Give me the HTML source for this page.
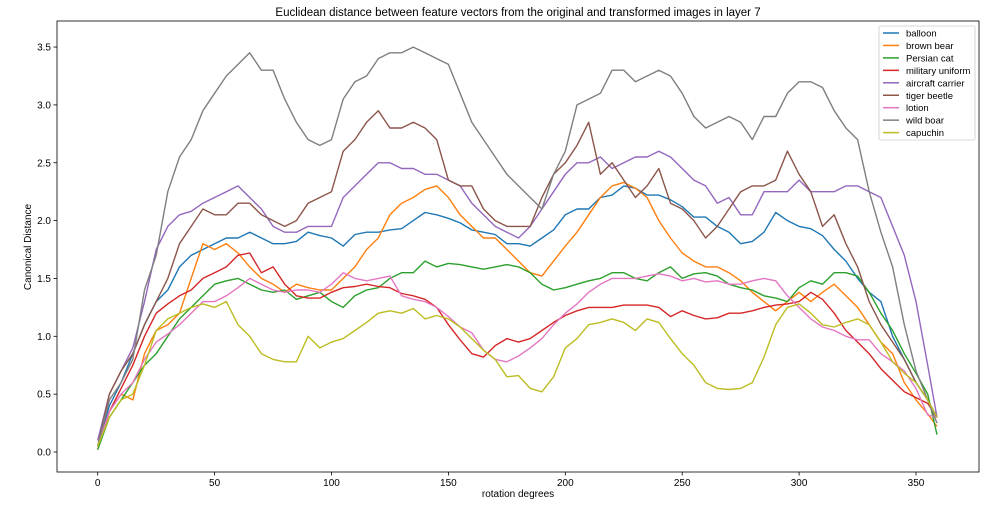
<!DOCTYPE html>
<html><head><meta charset="utf-8"><style>
body{margin:0;background:#fff;}
svg{display:block;font-family:"Liberation Sans",sans-serif;}
</style></head><body>
<svg id="chart" width="989" height="510" viewBox="0 0 989 510" xmlns="http://www.w3.org/2000/svg">
<rect width="989" height="510" fill="#fff"/>
<text x="518" y="16" text-anchor="middle" font-size="11.5" fill="#000">Euclidean distance between feature vectors from the original and transformed images in layer 7</text>
<g id="plot"></g>
<g id="axes"></g>
<text x="518" y="497" text-anchor="middle" font-size="10">rotation degrees</text>
<text transform="translate(31,247) rotate(-90)" text-anchor="middle" font-size="10">Canonical Distance</text>
<g id="legend"></g>
</svg>
<script>
const degrees=[0,5,10,15,20,25,30,35,40,45,50,55,60,65,70,75,80,85,90,95,100,105,110,115,120,125,130,135,140,145,150,155,160,165,170,175,180,185,190,195,200,205,210,215,220,225,230,235,240,245,250,255,260,265,270,275,280,285,290,295,300,305,310,315,320,325,330,335,340,345,350,355,359];
const seriesNames=["balloon","brown bear","Persian cat","military uniform","aircraft carrier","tiger beetle","lotion","wild boar","capuchin"];
const balloon=[0.05,0.4,0.6,0.85,1.1,1.3,1.4,1.6,1.7,1.75,1.8,1.85,1.85,1.9,1.85,1.8,1.8,1.82,1.9,1.87,1.85,1.78,1.88,1.9,1.9,1.92,1.93,2.0,2.07,2.05,2.02,1.98,1.92,1.9,1.88,1.8,1.8,1.78,1.85,1.92,2.05,2.1,2.1,2.2,2.22,2.3,2.28,2.22,2.22,2.18,2.12,2.03,2.03,1.95,1.9,1.8,1.82,1.9,2.07,2.0,1.95,1.93,1.87,1.75,1.65,1.5,1.38,1.3,1.0,0.8,0.6,0.45,0.3];
const brownBear=[0.02,0.35,0.5,0.45,0.85,1.05,1.1,1.2,1.5,1.8,1.75,1.8,1.72,1.6,1.5,1.45,1.38,1.45,1.42,1.4,1.4,1.5,1.6,1.75,1.85,2.05,2.15,2.2,2.27,2.3,2.2,2.05,1.95,1.85,1.85,1.75,1.65,1.55,1.52,1.65,1.78,1.9,2.05,2.2,2.3,2.33,2.28,2.2,2.0,1.85,1.72,1.65,1.6,1.6,1.55,1.48,1.38,1.3,1.22,1.3,1.38,1.3,1.38,1.45,1.35,1.25,1.1,0.95,0.85,0.6,0.45,0.33,0.22];
const persianCat=[0.02,0.3,0.45,0.6,0.75,0.85,1.0,1.15,1.25,1.35,1.45,1.48,1.5,1.45,1.4,1.38,1.4,1.32,1.35,1.38,1.3,1.25,1.35,1.4,1.42,1.5,1.55,1.55,1.65,1.6,1.63,1.62,1.6,1.58,1.6,1.62,1.6,1.55,1.45,1.4,1.42,1.45,1.48,1.5,1.55,1.55,1.5,1.48,1.55,1.6,1.5,1.54,1.55,1.52,1.45,1.42,1.4,1.35,1.33,1.3,1.42,1.48,1.45,1.55,1.55,1.52,1.38,1.2,1.05,0.85,0.68,0.5,0.15];
const militaryUniform=[0.05,0.35,0.55,0.75,1.0,1.2,1.28,1.35,1.4,1.5,1.55,1.6,1.7,1.72,1.55,1.6,1.45,1.35,1.33,1.33,1.38,1.42,1.43,1.45,1.43,1.42,1.37,1.35,1.32,1.25,1.1,0.97,0.85,0.82,0.92,0.98,0.95,0.98,1.05,1.12,1.18,1.22,1.25,1.25,1.25,1.27,1.27,1.27,1.25,1.17,1.22,1.18,1.15,1.16,1.2,1.2,1.22,1.25,1.27,1.28,1.3,1.38,1.32,1.2,1.05,0.95,0.85,0.72,0.62,0.52,0.47,0.42,0.3];
const aircraftCarrier=[0.1,0.5,0.7,0.9,1.3,1.75,1.95,2.05,2.08,2.15,2.2,2.25,2.3,2.2,2.1,1.95,1.9,1.9,1.95,1.95,1.95,2.2,2.3,2.4,2.5,2.5,2.45,2.45,2.4,2.4,2.35,2.3,2.15,2.05,1.95,1.9,1.85,1.95,2.1,2.25,2.4,2.5,2.5,2.55,2.45,2.5,2.55,2.55,2.6,2.55,2.45,2.35,2.3,2.15,2.2,2.05,2.05,2.25,2.25,2.25,2.35,2.25,2.25,2.25,2.3,2.3,2.25,2.2,1.95,1.7,1.3,0.75,0.3];
const tigerBeetle=[0.05,0.5,0.7,0.85,1.1,1.3,1.5,1.8,1.95,2.1,2.05,2.05,2.15,2.15,2.05,2.0,1.95,2.0,2.15,2.2,2.25,2.6,2.7,2.85,2.95,2.8,2.8,2.85,2.8,2.7,2.35,2.3,2.3,2.1,2.0,1.95,1.95,1.95,2.2,2.4,2.5,2.65,2.85,2.4,2.5,2.35,2.2,2.3,2.45,2.15,2.1,2.0,1.85,1.95,2.1,2.25,2.3,2.3,2.35,2.6,2.4,2.25,1.95,2.05,1.8,1.6,1.3,1.1,0.95,0.8,0.6,0.45,0.3];
const lotion=[0.05,0.35,0.5,0.6,0.8,0.95,1.02,1.1,1.2,1.3,1.3,1.35,1.42,1.5,1.45,1.4,1.38,1.4,1.4,1.38,1.45,1.55,1.5,1.48,1.5,1.52,1.35,1.32,1.3,1.25,1.17,1.08,1.03,0.88,0.8,0.78,0.83,0.9,0.98,1.1,1.2,1.28,1.38,1.45,1.5,1.5,1.5,1.52,1.54,1.52,1.48,1.5,1.47,1.48,1.45,1.45,1.48,1.5,1.48,1.35,1.25,1.15,1.08,1.05,1.0,0.97,0.97,0.85,0.78,0.7,0.55,0.32,0.3];
const wildBoar=[0.05,0.45,0.6,0.8,1.4,1.7,2.25,2.55,2.7,2.95,3.1,3.25,3.35,3.45,3.3,3.3,3.05,2.85,2.7,2.65,2.7,3.05,3.2,3.25,3.4,3.45,3.45,3.5,3.45,3.4,3.35,3.1,2.85,2.7,2.55,2.4,2.3,2.2,2.1,2.4,2.6,3.0,3.05,3.1,3.3,3.3,3.2,3.25,3.3,3.25,3.1,2.9,2.8,2.85,2.9,2.85,2.7,2.9,2.9,3.1,3.2,3.2,3.15,2.95,2.8,2.7,2.25,1.9,1.6,1.1,0.7,0.45,0.25];
const capuchin=[0.05,0.3,0.45,0.5,0.75,1.05,1.15,1.2,1.25,1.28,1.25,1.3,1.1,1.0,0.85,0.8,0.78,0.78,1.0,0.9,0.95,0.98,1.05,1.12,1.2,1.22,1.2,1.24,1.15,1.18,1.15,1.08,0.98,0.88,0.8,0.65,0.66,0.55,0.52,0.65,0.9,0.98,1.1,1.12,1.15,1.12,1.05,1.15,1.12,0.98,0.85,0.75,0.6,0.55,0.54,0.55,0.6,0.82,1.1,1.25,1.28,1.2,1.1,1.08,1.12,1.15,1.1,0.95,0.78,0.68,0.6,0.45,0.3];
const xTicks=[0,50,100,150,200,250,300,350];
const yTicks=[0.0,0.5,1.0,1.5,2.0,2.5,3.0,3.5];
const allSeries=[balloon,brownBear,persianCat,militaryUniform,aircraftCarrier,tigerBeetle,lotion,wildBoar,capuchin];
const colors=["#1f77b4","#ff7f0e","#2ca02c","#d62728","#9467bd","#8c564b","#e377c2","#7f7f7f","#bcbd22"];
const NS="http://www.w3.org/2000/svg";
const L=57,R=979,T=21,B=472;
function xs(d){return 97.7+d*2.338;}
function ys(v){return 452-v*115.7;}
function mk(t,a,p){const e=document.createElementNS(NS,t);for(const k in a)e.setAttribute(k,a[k]);p.appendChild(e);return e;}
const plot=document.getElementById('plot'),axes=document.getElementById('axes'),legend=document.getElementById('legend');
allSeries.forEach((s,i)=>{
  const pts=s.map((v,j)=>xs(degrees[j]).toFixed(1)+","+ys(v).toFixed(1)).join(" ");
  const pl=mk('polyline',{points:pts,fill:'none',stroke:colors[i],'stroke-width':1.4,'stroke-linejoin':'round'},plot);
  
  
});
const fr=mk('rect',{x:L,y:T,width:R-L,height:B-T,fill:'none',stroke:'#000','stroke-width':0.8},axes);


xTicks.forEach(t=>{
  const x=xs(t);
  const tk=mk('line',{x1:x,x2:x,y1:B,y2:B+3.5,stroke:'#000','stroke-width':0.8},axes);
  
  
  const lb=mk('text',{x:x,y:B+14,'text-anchor':'middle','font-size':10},axes);
  lb.textContent=t;
  
  
});
yTicks.forEach(t=>{
  const y=ys(t);
  const tk=mk('line',{x1:L-3.5,x2:L,y1:y,y2:y,stroke:'#000','stroke-width':0.8},axes);
  
  
  const lb=mk('text',{x:L-6,y:y+3.5,'text-anchor':'end','font-size':10},axes);
  lb.textContent=t.toFixed(1);
  
  
});
const lbx=mk('rect',{x:879,y:26,width:96,height:114,fill:'#fff','fill-opacity':0.8,stroke:'#ccc','stroke-width':0.8,rx:2},legend);


seriesNames.forEach((n,i)=>{
  const y=33+i*12.45;
  const g=mk('g',{},legend);
  
  
  mk('line',{x1:883,x2:899,y1:y,y2:y,stroke:colors[i],'stroke-width':1.5},g);
  const tx=mk('text',{x:906,y:y+3.5,'font-size':9.5},g);
  tx.textContent=n;
});
</script>
</body></html>
